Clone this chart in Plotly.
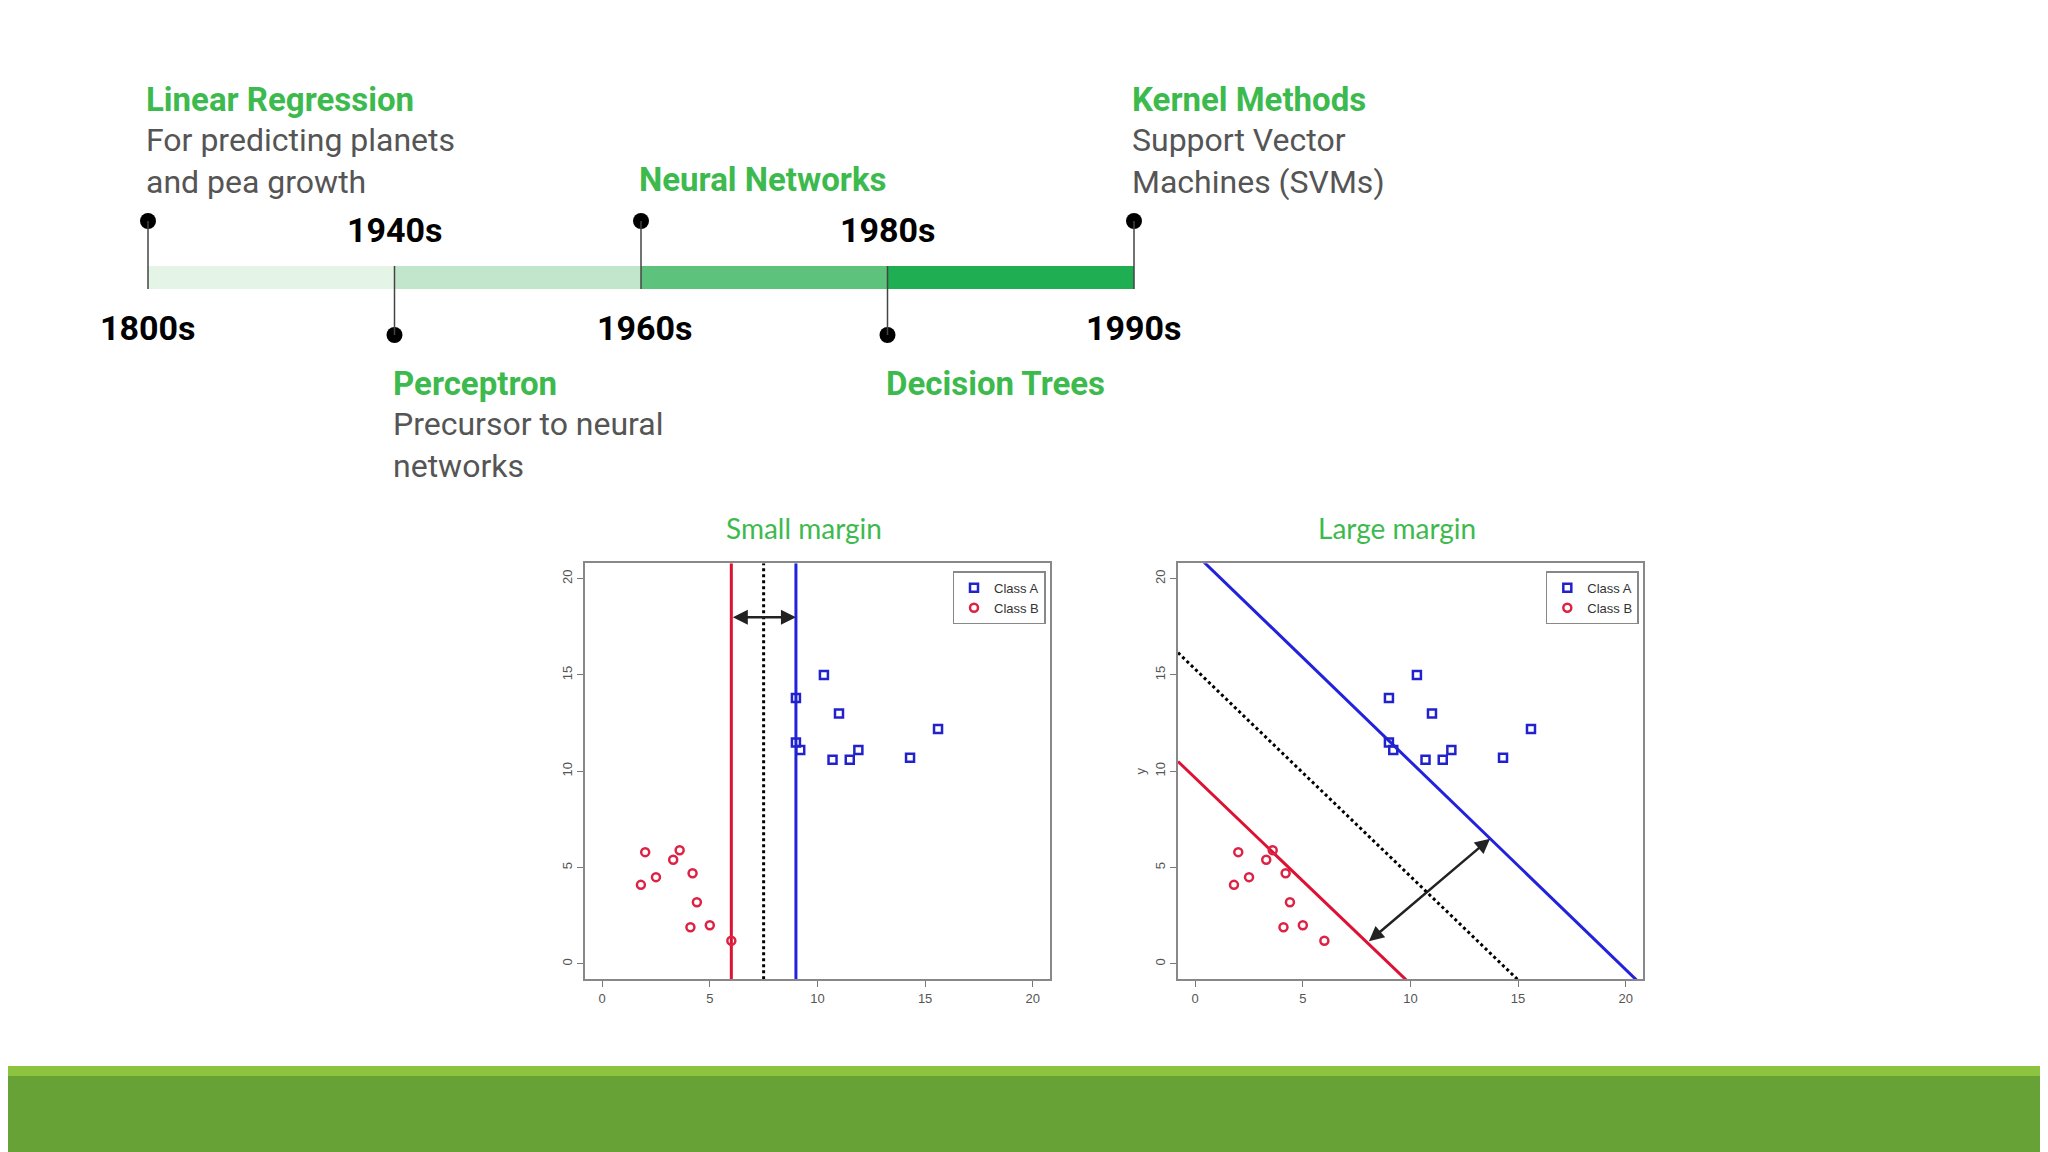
import plotly.graph_objects as go

# timeline data
eras = ['1800s', '1940s', '1960s', '1980s', '1990s']
era_pos = [0, 1, 2, 3, 4]
seg_colors = ['#e4f4e7', '#c2e6cb', '#5cc27c', '#1fae52']
events = ['Linear Regression', 'Perceptron', 'Neural Networks', 'Decision Trees', 'Kernel Methods']
event_notes = ['For predicting planets<br>and pea growth', 'Precursor to neural<br>networks', '', '', 'Support Vector<br>Machines (SVMs)']
event_side = ['top', 'bottom', 'top', 'bottom', 'top']

# SVM scatter data
a_x = [9.0, 10.3, 11.0, 9.0, 9.2, 10.7, 11.5, 11.9, 14.3, 15.6]
a_y = [13.8, 15.0, 13.0, 11.5, 11.1, 10.6, 10.6, 11.1, 10.7, 12.2]
b_x = [1.8, 2.0, 2.5, 3.3, 3.6, 4.2, 4.4, 4.1, 5.0, 6.0]
b_y = [4.1, 5.8, 4.5, 5.4, 5.9, 4.7, 3.2, 1.9, 2.0, 1.2]
small_lines = {'red': 6.0, 'mid': 7.5, 'blue': 9.0}
large_lines = {'red': (-1.07, 9.65), 'mid': (-1.076, 15.3), 'blue': (-1.08, 21.3)}

GREEN = '#3dba4e'
fig = go.Figure()

# bottom band
fig.add_shape(type='rect', xref='paper', yref='paper', x0=-0.01, x1=1.01, y0=1 - 1068 / 1152,
              y1=1 - 1058 / 1152, fillcolor='#8cc43f', line_width=0)
fig.add_shape(type='rect', xref='paper', yref='paper', x0=-0.01, x1=1.01, y0=-0.02, y1=1 - 1068 / 1152,
              fillcolor='#66a235', line_width=0)

# ---- timeline ----
BAR_Y0, BAR_Y1, TOP_DOT, BOT_DOT = 258, 281, 213, 327
for i in range(4):
    fig.add_shape(type='rect', xref='x3', yref='y3', x0=era_pos[i], x1=era_pos[i + 1],
                  y0=BAR_Y0, y1=BAR_Y1, fillcolor=seg_colors[i], line_width=0)
for i, p in enumerate(era_pos):
    if event_side[i] == 'top':
        fig.add_shape(type='line', xref='x3', yref='y3', x0=p, x1=p, y0=TOP_DOT, y1=BAR_Y1,
                      line=dict(color='#444', width=1.5))
    else:
        fig.add_shape(type='line', xref='x3', yref='y3', x0=p, x1=p, y0=BAR_Y0, y1=BOT_DOT,
                      line=dict(color='#444', width=1.5))
dot_y = [TOP_DOT if s == 'top' else BOT_DOT for s in event_side]
fig.add_trace(go.Scatter(x=era_pos, y=dot_y, mode='markers', xaxis='x3', yaxis='y3',
                         marker=dict(color='black', size=16), showlegend=False, hoverinfo='skip',
                         cliponaxis=False))

for i, (p, lab) in enumerate(zip(era_pos, eras)):
    y = 320 if event_side[i] == 'top' else 222
    fig.add_annotation(x=p, y=y, xref='x3', yref='y3', text='<b>' + lab + '</b>', showarrow=False,
                       font=dict(family='Roboto', size=34, color='black'), xshift=4 if i == 2 else 0)

title_y = {'top': 91, 'bottom': 375}
for i, p in enumerate(era_pos):
    side = event_side[i]
    ty = title_y[side]
    if i == 2:
        ty = 171
    fig.add_annotation(x=p, y=ty, xref='x3', yref='y3', text='<b>' + events[i] + '</b>',
                       showarrow=False, xanchor='left', xshift=-4,
                       font=dict(family='Roboto', size=33, color=GREEN))
    if event_notes[i]:
        fig.add_annotation(x=p, y=ty + 20, xref='x3', yref='y3', text=event_notes[i],
                           showarrow=False, xanchor='left', yanchor='top', xshift=-4, align='left',
                           font=dict(family='Roboto', size=32, color='#555'))

# ---- scatter plots ----
def add_points(xa, ya, leg):
    fig.add_trace(go.Scatter(x=a_x, y=a_y, mode='markers', name='Class A', xaxis=xa, yaxis=ya,
                             legend=leg, marker=dict(symbol='square-open', color='#2222cc', size=8,
                                                     line=dict(width=2.5))))
    fig.add_trace(go.Scatter(x=b_x, y=b_y, mode='markers', name='Class B', xaxis=xa, yaxis=ya,
                             legend=leg, marker=dict(symbol='circle-open', color='#dd2244', size=8,
                                                     line=dict(width=2.5))))

line_style = {'red': dict(color='#dd1133', width=3), 'blue': dict(color='#2222dd', width=3),
              'mid': dict(color='black', width=3, dash='dot')}

for k, v in small_lines.items():
    fig.add_trace(go.Scatter(x=[v, v], y=[-0.8, 20.8], mode='lines', xaxis='x', yaxis='y',
                             line=line_style[k], showlegend=False, hoverinfo='skip'))
add_points('x', 'y', 'legend')

for k, (m, c) in large_lines.items():
    xs = [-0.8, 20.8]
    fig.add_trace(go.Scatter(x=xs, y=[m * x + c for x in xs], mode='lines', xaxis='x2', yaxis='y2',
                             line=line_style[k], showlegend=False, hoverinfo='skip'))
add_points('x2', 'y2', 'legend2')

fig.add_annotation(x=9.0, y=18.0, ax=6.0, ay=18.0, xref='x', yref='y', axref='x', ayref='y',
                   showarrow=True, arrowhead=2, arrowside='end+start', arrowwidth=2.5,
                   arrowsize=1.2, arrowcolor='#222', text='')
fig.add_annotation(x=13.7, y=6.5, ax=8.0, ay=1.1, xref='x2', yref='y2', axref='x2', ayref='y2',
                   showarrow=True, arrowhead=2, arrowside='end+start', arrowwidth=2.5,
                   arrowsize=1.2, arrowcolor='#222', text='')

for xr, yr, txt in [('x domain', 'y domain', 'Small margin'), ('x2 domain', 'y2 domain', 'Large margin')]:
    fig.add_annotation(x=0.47, y=1.0, xref=xr, yref=yr, yanchor='bottom', yshift=16, text=txt,
                       showarrow=False, font=dict(family='Lato', size=28, color=GREEN))

ax_common = dict(range=[-0.8, 20.8], tickvals=[0, 5, 10, 15, 20], ticks='outside', ticklen=6,
                 tickcolor='#777', tickfont=dict(family='Liberation Sans', size=13, color='#555'),
                 showline=True, linecolor='#888', linewidth=2, mirror=True, showgrid=False,
                 zeroline=False, fixedrange=True)

legend_common = dict(bgcolor='white', bordercolor='#888', borderwidth=1.5, xanchor='right',
                     yanchor='top', font=dict(family='Liberation Sans', size=13, color='#333'),
                     tracegroupgap=0, itemwidth=30)

unit = (1134 - 148) / 4
dx = 8 / 2048
dy = 8 / 1152
fig.update_layout(
    width=2048, height=1152, margin=dict(l=0, r=0, t=0, b=0),
    paper_bgcolor='white', plot_bgcolor='rgba(0,0,0,0)',
    xaxis=dict(domain=[0.2856 - dx, 0.5127 - dx], anchor='y', **ax_common),
    yaxis=dict(domain=[0.150 + dy, 0.511 + dy], anchor='x', tickangle=-90, **ax_common),
    xaxis2=dict(domain=[0.5752 - dx, 0.8022 - dx], anchor='y2', **ax_common),
    yaxis2=dict(domain=[0.150 + dy, 0.511 + dy], anchor='x2', tickangle=-90,
                title=dict(text='y', font=dict(size=13, color='#555'), standoff=4), **ax_common),
    xaxis3=dict(domain=[(140 - unit / 2) / 2048, (1126 + unit / 2) / 2048], range=[-0.5, 4.5],
                visible=False, anchor='y3'),
    yaxis3=dict(domain=[0, 1], range=[1152, 0], visible=False, anchor='x3'),
    legend=dict(x=0.5105 - dx, y=0.504 + dy, **legend_common),
    legend2=dict(x=0.8002 - dx, y=0.504 + dy, **legend_common),
)

fig.write_html('out.html')
